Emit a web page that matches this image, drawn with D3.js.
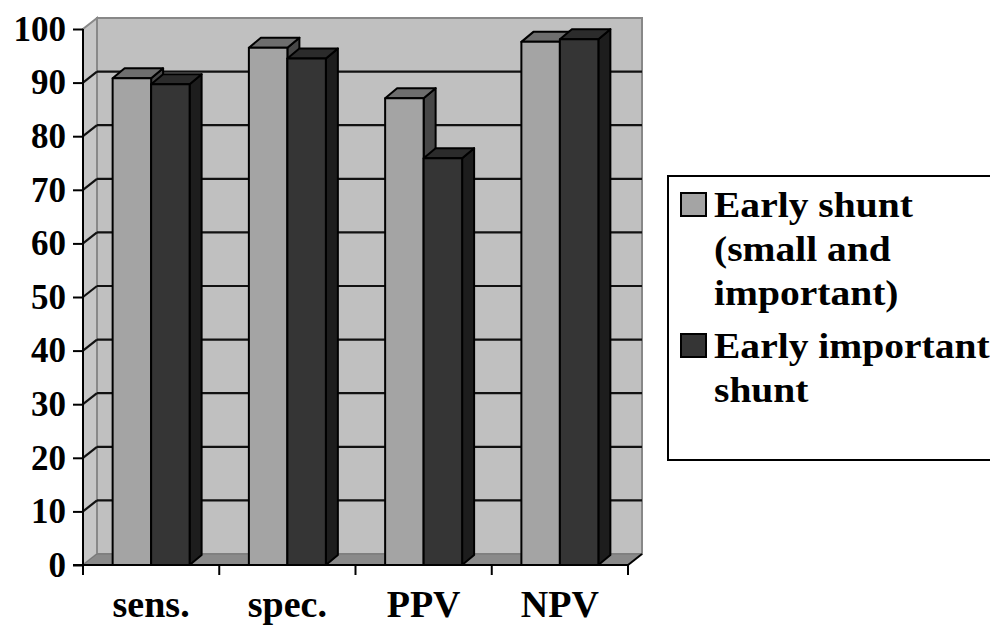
<!DOCTYPE html>
<html>
<head>
  <script src="https://d3js.org/d3.v7.min.js"></script>
  <style>
    body { margin: 0; background: #fff; }
    text { font-family: "Liberation Serif", "Times New Roman", serif; font-weight: bold; }
  </style>
</head>
<body>
  <div id="chart"></div>

  <script>
    const categories = ["sens.", "spec.", "PPV", "NPV"];
    const seriesNames = ["Early shunt (small and important)", "Early important shunt"];
    const earlyShunt = [90.8, 96.5, 87.1, 97.6];
    const earlyImportant = [89.7, 94.5, 75.9, 98.1];
    const yTicks = [0, 10, 20, 30, 40, 50, 60, 70, 80, 90, 100];
    const legendLines = [["Early shunt", "(small and", "important)"], ["Early important", "shunt"]];

    const width = 990, height = 626;
    const plotLeft = 83, plotRight = 628, plotTop = 29, plotBottom = 565;
    // 3d offsets: wall depth and bar depth
    const wd = { x: 14, y: -11 };
    const bd = { x: 12, y: -10 };

    const faces = [
      { front: "#a4a4a4", top: "#6e6e6e", side: "#474747" },
      { front: "#353535", top: "#2b2b2b", side: "#1d1d1d" }
    ];

    const svg = d3.select("#chart").append("svg")
      .attr("width", width)
      .attr("height", height);

    const x = d3.scaleBand().domain(categories).range([plotLeft, plotRight]);
    const inner = d3.scaleBand().domain([0, 1]).range([0, x.bandwidth()]).paddingOuter(0.77);
    const y = d3.scaleLinear().domain([0, 100]).range([plotBottom, plotTop]);

    const pts = p => p.map(d => d.join(",")).join(" ");

    // back wall
    svg.append("rect")
      .attr("x", plotLeft + wd.x).attr("y", plotTop + wd.y)
      .attr("width", plotRight - plotLeft).attr("height", plotBottom - plotTop)
      .attr("fill", "#c0c0c0").attr("stroke", "#888").attr("stroke-width", 2);

    // left side wall
    svg.append("polygon")
      .attr("points", pts([[plotLeft, plotBottom], [plotLeft, plotTop], [plotLeft + wd.x, plotTop + wd.y], [plotLeft + wd.x, plotBottom + wd.y]]))
      .attr("fill", "#c6c6c6").attr("stroke", "#888").attr("stroke-width", 2);

    // floor
    svg.append("polygon")
      .attr("points", pts([[plotLeft, plotBottom], [plotRight, plotBottom], [plotRight + wd.x, plotBottom + wd.y], [plotLeft + wd.x, plotBottom + wd.y]]))
      .attr("fill", "#8a8a8a").attr("stroke", "#777").attr("stroke-width", 1);

    // gridlines
    const grid = svg.append("g").attr("stroke", "#111").attr("stroke-width", 2.2);
    yTicks.filter(t => t > 0 && t < 100).forEach(t => {
      grid.append("line")
        .attr("x1", plotLeft + wd.x).attr("x2", plotRight + wd.x)
        .attr("y1", y(t) + wd.y).attr("y2", y(t) + wd.y);
      grid.append("line")
        .attr("x1", plotLeft).attr("x2", plotLeft + wd.x)
        .attr("y1", y(t)).attr("y2", y(t) + wd.y);
    });

    // bars
    const bars = [];
    categories.forEach((c, i) => {
      [earlyShunt[i], earlyImportant[i]].forEach((v, s) => {
        bars.push({ c, v, s });
      });
    });

    const barG = svg.append("g").attr("stroke", "#000").attr("stroke-width", 2).attr("stroke-linejoin", "round");
    bars.forEach(d => {
      const x0 = x(d.c) + inner(d.s), x1 = x0 + inner.bandwidth();
      const y0 = y(d.v), y1 = y(0);
      const g = barG.append("g");
      g.append("polygon")
        .attr("points", pts([[x1, y1], [x1, y0], [x1 + bd.x, y0 + bd.y], [x1 + bd.x, y1 + bd.y]]))
        .attr("fill", faces[d.s].side);
      g.append("polygon")
        .attr("points", pts([[x0, y0], [x1, y0], [x1 + bd.x, y0 + bd.y], [x0 + bd.x, y0 + bd.y]]))
        .attr("fill", faces[d.s].top);
      g.append("rect")
        .attr("x", x0).attr("y", y0)
        .attr("width", x1 - x0).attr("height", y1 - y0)
        .attr("fill", faces[d.s].front);
    });

    // y axis
    const yAxis = svg.append("g")
      .attr("transform", `translate(${plotLeft},0)`)
      .call(d3.axisLeft(y).tickValues(yTicks).tickSize(10).tickPadding(7));
    yAxis.selectAll("line, path").attr("stroke", "#000").attr("stroke-width", 2);
    yAxis.select(".domain").attr("d", `M0,${plotBottom}V${plotTop}`);
    yAxis.selectAll("text")
      .attr("fill", "#000")
      .style("font-size", "35px")
      .style("font-family", "'Liberation Serif', serif")
      .style("font-weight", "bold");

    // x axis
    const xAxis = svg.append("g").attr("stroke", "#000").attr("stroke-width", 2);
    xAxis.append("line").attr("x1", plotLeft - 10).attr("x2", plotRight).attr("y1", plotBottom).attr("y2", plotBottom);
    xAxis.append("line").attr("x1", plotRight).attr("x2", plotRight + wd.x).attr("y1", plotBottom).attr("y2", plotBottom + wd.y);
    const edges = categories.map(c => x(c)).concat([plotRight]);
    edges.forEach(e => {
      xAxis.append("line").attr("x1", e).attr("x2", e).attr("y1", plotBottom).attr("y2", plotBottom + 10);
    });

    svg.append("g").selectAll("text")
      .data(categories)
      .join("text")
      .attr("x", d => x(d) + x.bandwidth() / 2)
      .attr("y", 617)
      .attr("text-anchor", "middle")
      .attr("font-size", 38)
      .text(d => d);

    // legend
    const legend = svg.append("g");
    legend.append("rect")
      .attr("x", 668).attr("y", 176)
      .attr("width", 340).attr("height", 284)
      .attr("fill", "#fff").attr("stroke", "#000").attr("stroke-width", 2);

    const entryY = [217, 358];
    seriesNames.forEach((name, s) => {
      legend.append("rect")
        .attr("x", 681).attr("y", entryY[s] - 24)
        .attr("width", 25).attr("height", 23)
        .attr("fill", faces[s].front).attr("stroke", "#000").attr("stroke-width", 2);
      legendLines[s].forEach((line, j) => {
        legend.append("text")
          .attr("transform", `translate(714,${entryY[s] + j * 44}) scale(1.13,1)`)
          .attr("font-size", 35)
          .text(line);
      });
    });
  </script>
</body>
</html>
